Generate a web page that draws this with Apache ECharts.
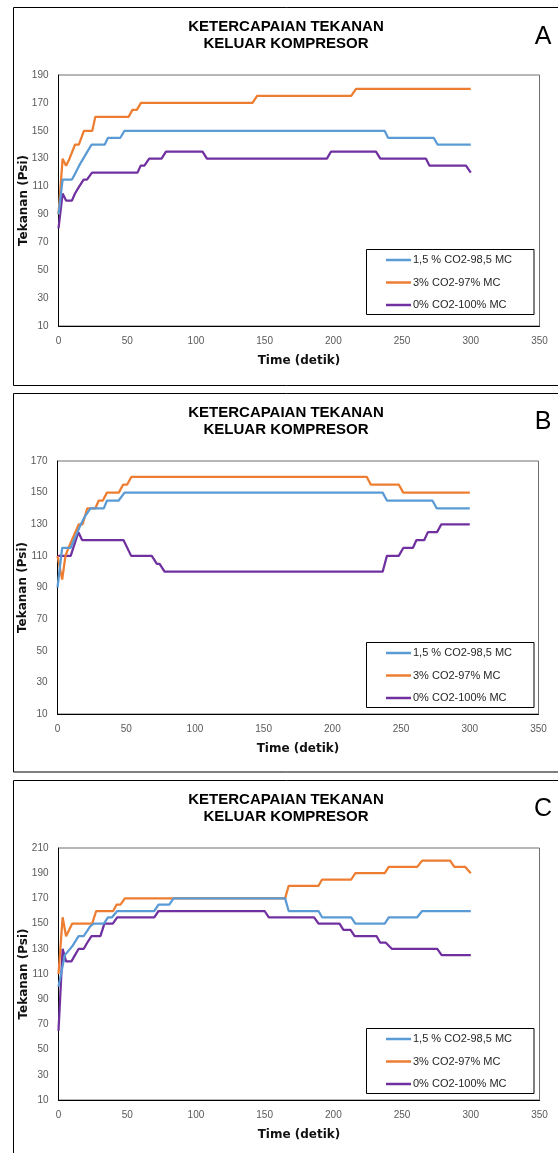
<!DOCTYPE html>
<html><head><meta charset="utf-8">
<script src="https://cdn.jsdelivr.net/npm/echarts@6/dist/echarts.min.js"></script>
<style>html,body{margin:0;padding:0;background:#fff}#c{width:558px;height:1153px}</style>
</head><body><div id="c"></div>
<script>
// ---------- data ----------
const seriesNames = ['1,5 % CO2-98,5 MC', '3% CO2-97% MC', '0% CO2-100% MC'];
const panelLetters = ['A', 'B', 'C'];
const titleText = 'KETERCAPAIAN TEKANAN\nKELUAR KOMPRESOR';
const xAxisName = 'Time (detik)';
const yAxisName = 'Tekanan (Psi)';
const xRange = [0, 350];
const xStep = 50;
const yRangeA = [10, 190];
const yRangeB = [10, 170];
const yRangeC = [10, 210];
const yStep = 20;

// Panel A
const tA_blue = [0, 3, 9.8, 12.5, 15, 18, 21, 24, 33.6, 36, 45, 48, 237.3, 239.8, 273, 275.9, 300];
const vA_blue = [90, 115, 115, 120, 125, 130, 135, 140, 140, 145, 145, 150, 150, 145, 145, 140, 140];
const tA_orange = [0, 3, 5.5, 8, 12, 14.8, 18.5, 24.6, 26.8, 51, 53.8, 57, 60, 141.2, 144.5, 213, 216.5, 300];
const vA_orange = [90, 130, 125, 130, 140, 140, 150, 150, 160, 160, 165, 165, 170, 170, 175, 175, 180, 180];
const tA_purple = [0, 3, 5.5, 9.8, 12, 15, 18.3, 20.7, 24.4, 57.5, 59.8, 62.5, 66, 75, 78.2, 104.8, 108, 195.3, 198.2, 231, 234.2, 267.4, 270, 296.5, 300];
const vA_purple = [80, 105, 100, 100, 105, 110, 115, 115, 120, 120, 125, 125, 130, 130, 135, 135, 130, 130, 135, 135, 130, 130, 125, 125, 120];

// Panel B
const tB_blue = [0, 3.4, 9.5, 12, 14.5, 17, 20, 24, 33.7, 36, 44.5, 48.8, 236.6, 239.7, 272.8, 276, 300];
const vB_blue = [90, 115, 115, 120, 125, 130, 135, 140, 140, 145, 145, 150, 150, 145, 145, 140, 140];
const tB_orange = [0, 3.4, 5.8, 8, 10.5, 13, 15.5, 18.3, 21.6, 27.5, 30, 33, 36, 44.6, 47.7, 50.6, 53.8, 225, 228, 248.4, 251.6, 300];
const vB_orange = [110, 95, 110, 115, 120, 125, 130, 130, 140, 140, 145, 145, 150, 150, 155, 155, 160, 160, 155, 155, 150, 150];
const tB_purple = [0, 9.6, 15.2, 17.9, 48, 53.6, 68.6, 72.3, 74.3, 77.9, 236.6, 239.7, 248.3, 251.6, 258.6, 261.2, 266.9, 269.5, 276.2, 279.3, 300];
const vB_purple = [110, 110, 125, 120, 120, 110, 110, 105, 105, 100, 100, 110, 110, 115, 115, 120, 120, 125, 125, 130, 130];

// Panel C
const tC_blue = [0, 4.6, 10, 14.6, 18.3, 23.2, 25.7, 33, 36, 39, 42.7, 69.7, 72.8, 80.6, 83.7, 164.9, 167.5, 189.2, 191.8, 213, 216, 237.4, 240.3, 261, 264.6, 300];
const vC_blue = [100, 125, 132, 140, 140, 148, 150, 150, 155, 155, 160, 160, 165, 165, 170, 170, 160, 160, 155, 155, 150, 150, 155, 155, 160, 160];
const tC_orange = [0, 3, 5.5, 10, 24.5, 27.4, 39.8, 42.2, 45.1, 48.3, 164.9, 167.5, 189.2, 191.8, 213, 216, 237.4, 240.3, 261, 264.6, 285, 288, 296, 300];
const vC_orange = [110, 155, 140, 150, 150, 160, 160, 165, 165, 170, 170, 180, 180, 185, 185, 190, 190, 195, 195, 200, 200, 195, 195, 190];
const tC_purple = [0, 3, 5.5, 9.4, 12, 14.7, 18.4, 21, 24, 30.5, 33.4, 39.5, 42.7, 69.7, 72.8, 150, 153, 186, 189.2, 204.5, 207.3, 212.5, 215.5, 231.5, 234, 238, 242.5, 275.6, 278.8, 300];
const vC_purple = [65, 130, 120, 120, 125, 130, 130, 135, 140, 140, 150, 150, 155, 155, 160, 160, 155, 155, 150, 150, 145, 145, 140, 140, 135, 135, 130, 130, 125, 125];

// ---------- styling / layout ----------
const colors = ['#5B9BD5', '#ED7D31', '#7030A0'];
const grids = [
  { left: 58.5, top: 75, width: 481, height: 251 },
  { left: 57.5, top: 461, width: 481, height: 253 },
  { left: 58.5, top: 848, width: 481, height: 252 }
];
const yRanges = [yRangeA, yRangeB, yRangeC];
const panelData = [
  [[tA_blue, vA_blue], [tA_orange, vA_orange], [tA_purple, vA_purple]],
  [[tB_blue, vB_blue], [tB_orange, vB_orange], [tB_purple, vB_purple]],
  [[tC_blue, vC_blue], [tC_orange, vC_orange], [tC_purple, vC_purple]]
];
const panelBoxes = [
  { y: 7.5, h: 378 },
  { y: 393.5, h: 378.5 },
  { y: 780.5, h: 420 }
];
const titleY = [35, 421, 808.5];
const letterY = [37, 422, 809];
const legendBoxes = [249, 642, 1028];

const zip = (t, v) => t.map((x, i) => [x, v[i]]);
const nameFont = { fontFamily: 'DejaVu Sans', fontWeight: 'bold', fontSize: 12, color: '#111' };

const option = {
  animation: false,
  backgroundColor: '#fff',
  grid: grids.map(g => Object.assign({ show: true, borderColor: '#6e6e6e', borderWidth: 1, containLabel: false }, g)),
  xAxis: grids.map((g, i) => ({
    type: 'value', gridIndex: i, min: xRange[0], max: xRange[1], interval: xStep,
    name: xAxisName, nameLocation: 'middle', nameGap: 29, nameMoveOverlap: false,
    nameTextStyle: nameFont,
    axisLine: { show: true, onZero: false, lineStyle: { color: '#000', width: 1 } },
    axisTick: { show: false },
    splitLine: { show: false },
    axisLabel: { margin: 10, fontFamily: 'Liberation Sans', fontSize: 10, color: '#595959' }
  })),
  yAxis: grids.map((g, i) => ({
    type: 'value', gridIndex: i, min: yRanges[i][0], max: yRanges[i][1], interval: yStep,
    name: yAxisName, nameLocation: 'middle', nameGap: 29, nameMoveOverlap: false,
    nameTextStyle: nameFont,
    axisLine: { show: true, onZero: false, lineStyle: { color: '#000', width: 1 } },
    axisTick: { show: false },
    splitLine: { show: false },
    axisLabel: { margin: 10, fontFamily: 'Liberation Sans', fontSize: 10, color: '#595959' }
  })),
  legend: legendBoxes.map(top => ({
    data: seriesNames,
    orient: 'vertical',
    left: 386, top: top + 5,
    padding: 0,
    itemGap: 10.5,
    itemWidth: 25, itemHeight: 2.5,
    icon: 'rect',
    selectedMode: false,
    textStyle: { fontFamily: 'Liberation Sans', fontSize: 11, color: '#262626', lineHeight: 12, padding: [0, 0, 0, -3] }
  })),
  series: [],
  graphic: { elements: [] }
};

panelData.forEach((panel, p) => {
  panel.forEach((d, s) => {
    option.series.push({
      name: seriesNames[s], type: 'line', xAxisIndex: p, yAxisIndex: p,
      data: zip(d[0], d[1]), showSymbol: false, symbol: 'none',
      color: colors[s],
      itemStyle: { color: colors[s] },
      lineStyle: { color: colors[s], width: 2.25 },
      z: 3 - s
    });
  });
});

const els = option.graphic.elements;
panelBoxes.forEach((b, p) => {
  els.push({ type: 'rect', shape: { x: 13.5, y: b.y, width: 560, height: b.h },
    style: { fill: 'none', stroke: '#000', lineWidth: 1 }, silent: true, z: 0 });
  els.push({ type: 'text', x: 286, y: titleY[p],
    style: { text: titleText, font: 'bold 15px "Liberation Sans"', fill: '#000', align: 'center', verticalAlign: 'middle', lineHeight: 17 } });
  els.push({ type: 'text', x: 543, y: letterY[p],
    style: { text: panelLetters[p], font: '25px "Liberation Sans"', fill: '#000', align: 'center', verticalAlign: 'middle' } });
  els.push({ type: 'rect', shape: { x: 366.5, y: legendBoxes[p] + 0.5, width: 167.5, height: 65 },
    style: { fill: '#fff', stroke: '#000', lineWidth: 1 }, silent: true, z: 1 });
});

const chart = echarts.init(document.getElementById('c'), null, { renderer: 'canvas' });
chart.setOption(option);
</script>
</body></html>
